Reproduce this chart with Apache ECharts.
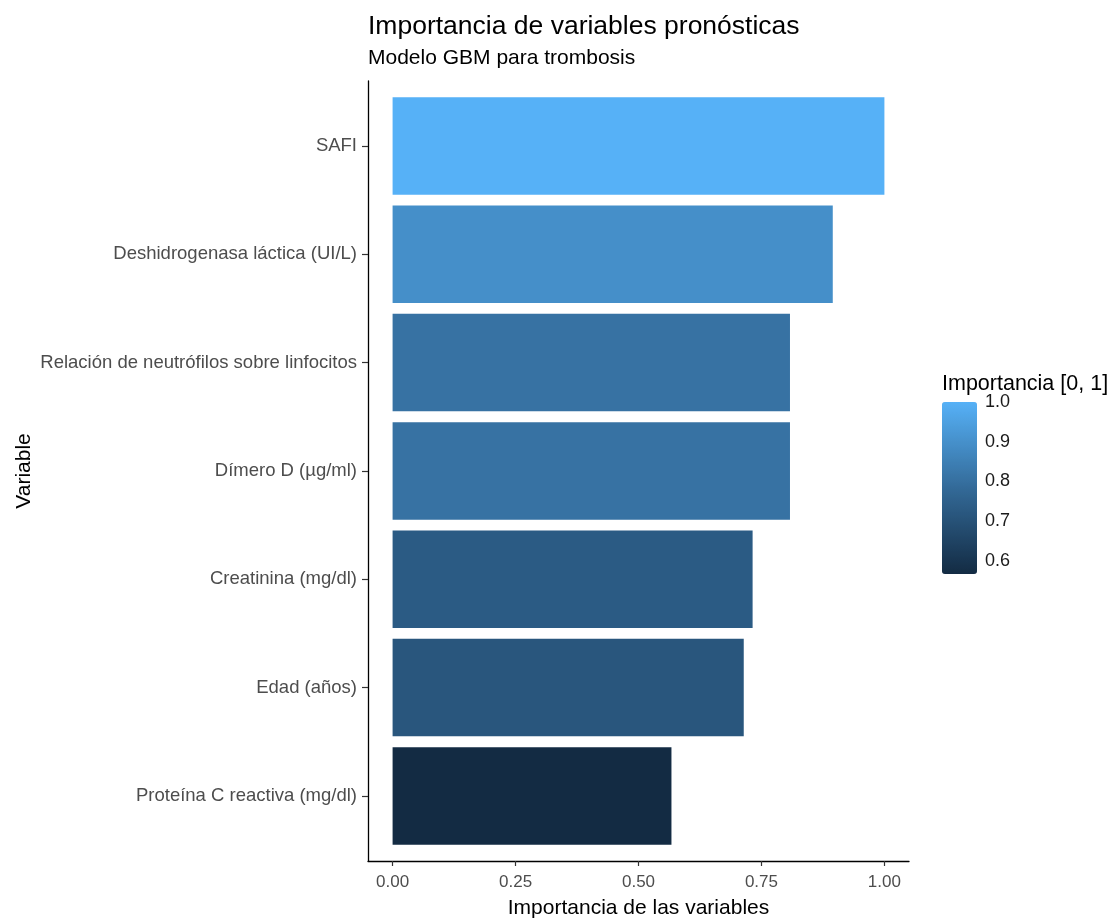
<!DOCTYPE html>
<html>
<head>
<meta charset="utf-8">
<script src="https://cdn.jsdelivr.net/npm/echarts@6/dist/echarts.min.js"></script>
<style>
  html, body { margin: 0; padding: 0; background: #fff; }
  #main { width: 1115px; height: 919px; }
</style>
</head>
<body>
<div id="main"></div>
<script>
// datos (de arriba hacia abajo)
const variables = [
  'SAFI',
  'Deshidrogenasa láctica (UI/L)',
  'Relación de neutrófilos sobre linfocitos',
  'Dímero D (µg/ml)',
  'Creatinina (mg/dl)',
  'Edad (años)',
  'Proteína C reactiva (mg/dl)'
];
const importance = [1.0, 0.895, 0.808, 0.808, 0.732, 0.714, 0.567];
const xTicks = [0, 0.25, 0.5, 0.75, 1];
const legendTicks = [0.6, 0.7, 0.8, 0.9, 1.0];

const FONT = '"Liberation Sans", Arial, sans-serif';
const chart = echarts.init(document.getElementById('main'));

const minImp = Math.min(...importance);
const maxImp = Math.max(...importance);

const option = {
  animation: false,
  backgroundColor: '#fff',
  textStyle: { fontFamily: FONT },
  title: [
    {
      text: 'Importancia de variables pronósticas',
      subtext: 'Modelo GBM para trombosis',
      left: 368,
      top: 13,
      padding: 0,
      itemGap: 8,
      textStyle: { fontFamily: FONT, fontSize: 26.5, fontWeight: 'normal', color: '#000' },
      subtextStyle: { fontFamily: FONT, fontSize: 21, color: '#000' }
    },
    {
      text: 'Importancia [0, 1]',
      left: 942,
      top: 373,
      padding: 0,
      textStyle: { fontFamily: FONT, fontSize: 21.5, fontWeight: 'normal', color: '#000' }
    }
  ],
  grid: [
    // barras
    { left: 368, width: 541, top: 91.8, height: 758.3, outerBoundsMode: 'none', containLabel: false },
    // marco (ejes con expansion)
    { left: 368, width: 541, top: 81, height: 780, outerBoundsMode: 'none', containLabel: false },
    // barra de color de la leyenda
    { left: 942, width: 35, top: 402, height: 172, outerBoundsMode: 'none', containLabel: false }
  ],
  xAxis: [
    { gridIndex: 0, type: 'value', min: -0.05, max: 1.05, show: false },
    {
      gridIndex: 1, type: 'value', min: -0.05, max: 1.05,
      axisLine: { show: true, onZero: false, lineStyle: { color: '#000', width: 1.3 } },
      axisTick: { show: true, customValues: xTicks, length: 5, lineStyle: { color: '#333', width: 1.2 } },
      axisLabel: {
        customValues: xTicks, margin: 13, fontSize: 17, color: '#4D4D4D', fontFamily: FONT,
        formatter: v => v.toFixed(2)
      },
      splitLine: { show: false },
      name: 'Importancia de las variables',
      nameLocation: 'middle',
      nameGap: 37,
      nameTextStyle: { fontFamily: FONT, fontSize: 21, color: '#000', verticalAlign: 'top' }
    },
    { gridIndex: 2, type: 'value', show: false }
  ],
  yAxis: [
    {
      gridIndex: 0, type: 'category', inverse: true, data: variables,
      axisLine: { show: false, onZero: false },
      axisTick: { show: true, alignWithLabel: true, length: 6, lineStyle: { color: '#333', width: 1.2 } },
      axisLabel: { margin: 11, fontSize: 18.5, color: '#4D4D4D', fontFamily: FONT }
    },
    {
      gridIndex: 1, type: 'value', min: 0, max: 1,
      axisLine: { show: true, onZero: false, lineStyle: { color: '#000', width: 1.3 } },
      axisTick: { show: false },
      axisLabel: { show: false },
      splitLine: { show: false },
      name: 'Variable',
      nameLocation: 'middle',
      nameRotate: 90,
      nameGap: 333,
      nameTextStyle: { fontFamily: FONT, fontSize: 21, color: '#000' }
    },
    {
      gridIndex: 2, type: 'value', position: 'left', min: minImp, max: maxImp,
      axisLine: { show: false, onZero: false },
      axisTick: { show: true, inside: true, length: 7, customValues: legendTicks.slice(0, 4), lineStyle: { color: '#fff', width: 1 } },
      axisLabel: { show: false },
      splitLine: { show: false }
    },
    {
      gridIndex: 2, type: 'value', position: 'right', min: minImp, max: maxImp,
      axisLine: { show: false, onZero: false },
      axisTick: { show: true, inside: true, length: 7, customValues: legendTicks.slice(0, 4), lineStyle: { color: '#fff', width: 1 } },
      axisLabel: {
        customValues: legendTicks, margin: 8, fontSize: 18, color: '#1A1A1A', fontFamily: FONT,
        formatter: v => v.toFixed(1)
      },
      splitLine: { show: false }
    }
  ],
  visualMap: {
    type: 'continuous',
    seriesIndex: 0,
    dimension: 0,
    min: minImp,
    max: maxImp,
    left: 942,
    top: 402,
    padding: 0,
    itemWidth: 35,
    itemHeight: 172,
    calculable: false,
    hoverLink: false,
    inRange: { color: ['#132B43', '#336A98', '#56B1F7'] }
  },
  series: [
    {
      type: 'bar',
      xAxisIndex: 0,
      yAxisIndex: 0,
      barWidth: '90%',
      encode: { x: 0, y: 1 },
      data: variables.map((v, i) => [importance[i], v])
    }
  ]
};

chart.setOption(option);
</script>
</body>
</html>
